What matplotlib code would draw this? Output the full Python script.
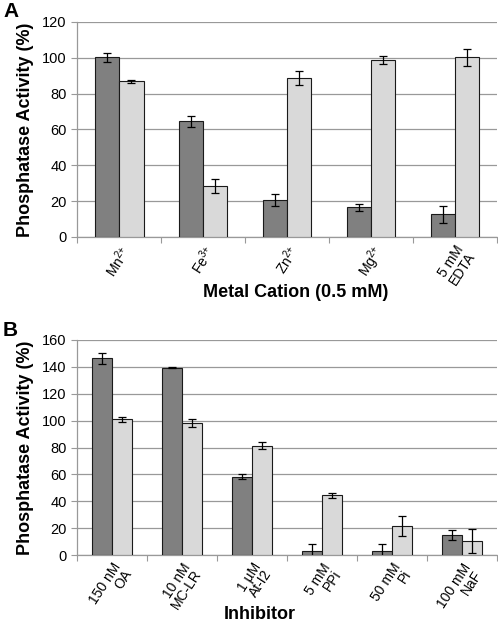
import matplotlib
matplotlib.use("Agg")
from matplotlib import pyplot as plt
import numpy as np

plt.rcParams['font.family'] = ['Liberation Sans', 'DejaVu Sans']
plt.rcParams['mathtext.fontset'] = 'custom'
plt.rcParams['mathtext.rm'] = 'Liberation Sans'
plt.rcParams['mathtext.default'] = 'regular'

# panel A - metal cations
cats_a = [r'Mn$^{2{+}}$', r'Fe$^{3{+}}$', r'Zn$^{2{+}}$', r'Mg$^{2{+}}$', '5 mM\nEDTA']
dark_a = [100.2, 64.6, 20.7, 16.6, 12.7]
dark_a_err = [2.7, 3.0, 3.5, 2.0, 4.8]
light_a = [86.8, 28.5, 88.8, 98.7, 100.2]
light_a_err = [1.0, 3.7, 3.9, 2.3, 4.6]

# panel B - inhibitors
cats_b = ['150 nM\nOA', '10 nM\nMC-LR', '1 \u00b5M\nAt-I2', '5 mM\nPPi', '50 mM\nPi', '100 mM\nNaF']
dark_b = [146.3, 139.4, 58.2, 2.7, 3.0, 14.9]
dark_b_err = [4.0, 0.2, 2.0, 5.5, 5.0, 3.5]
light_b = [101.0, 98.0, 81.4, 44.3, 21.5, 10.6]
light_b_err = [1.9, 3.0, 2.5, 2.2, 7.4, 8.8]

DARK = '#808080'
LIGHT = '#d9d9d9'
GRID = '#999999'

fig = plt.figure(figsize=(4.98, 6.23), dpi=100)
axA = fig.add_axes([0.155, 0.6196, 0.843, 0.3451])
axB = fig.add_axes([0.155, 0.1091, 0.843, 0.3452])


def panel(ax, cats, d, de, l, le, ymax, ystep, bw):
    x = np.arange(len(cats))
    ax.bar(x - bw / 2, d, bw, color=DARK, edgecolor='#1a1a1a', linewidth=0.8, zorder=3,
           yerr=de, error_kw=dict(ecolor='black', elinewidth=0.9, capsize=3, capthick=0.9))
    ax.bar(x + bw / 2, l, bw, color=LIGHT, edgecolor='#1a1a1a', linewidth=0.8, zorder=3,
           yerr=le, error_kw=dict(ecolor='black', elinewidth=0.9, capsize=3, capthick=0.9))
    ax.set_xlim(-0.5, len(cats) - 0.5)
    ax.set_ylim(0, ymax)
    ax.set_yticks(np.arange(0, ymax + 1, ystep))
    ax.yaxis.grid(True, color=GRID, linewidth=0.9, zorder=0)
    ax.set_axisbelow(True)
    for s in ['top', 'right']:
        ax.spines[s].set_visible(False)
    for s in ['left', 'bottom']:
        ax.spines[s].set_color(GRID)
        ax.spines[s].set_linewidth(0.9)
    ax.set_xticks(np.arange(len(cats) + 1) - 0.5)
    ax.set_xticklabels([])
    ax.tick_params(axis='x', which='major', length=4, color=GRID)
    ax.set_xticks(x, minor=True)
    ax.set_xticklabels(cats, minor=True, rotation=57, ha='right', rotation_mode='anchor',
                       multialignment='right', fontsize=10, linespacing=0.9)
    ax.tick_params(axis='x', which='minor', length=0, pad=4)
    ax.tick_params(axis='y', length=4, color=GRID, labelsize=10.5)
    ax.set_ylabel('Phosphatase Activity (%)', fontsize=13, fontweight='bold', labelpad=6)


panel(axA, cats_a, dark_a, dark_a_err, light_a, light_a_err, 120, 20, 0.29)
panel(axB, cats_b, dark_b, dark_b_err, light_b, light_b_err, 160, 20, 0.285)

fig.text(0.593, 0.530, 'Metal Cation (0.5 mM)', fontsize=13, fontweight='bold', ha='center', va='center')
fig.text(0.522, 0.013, 'Inhibitor', fontsize=13, fontweight='bold', ha='center', va='center')

fig.text(0.006, 0.982, 'A', fontsize=15, fontweight='bold', va='center')
fig.text(0.006, 0.470, 'B', fontsize=15, fontweight='bold', va='center')

fig.savefig('out.png', dpi=100)
